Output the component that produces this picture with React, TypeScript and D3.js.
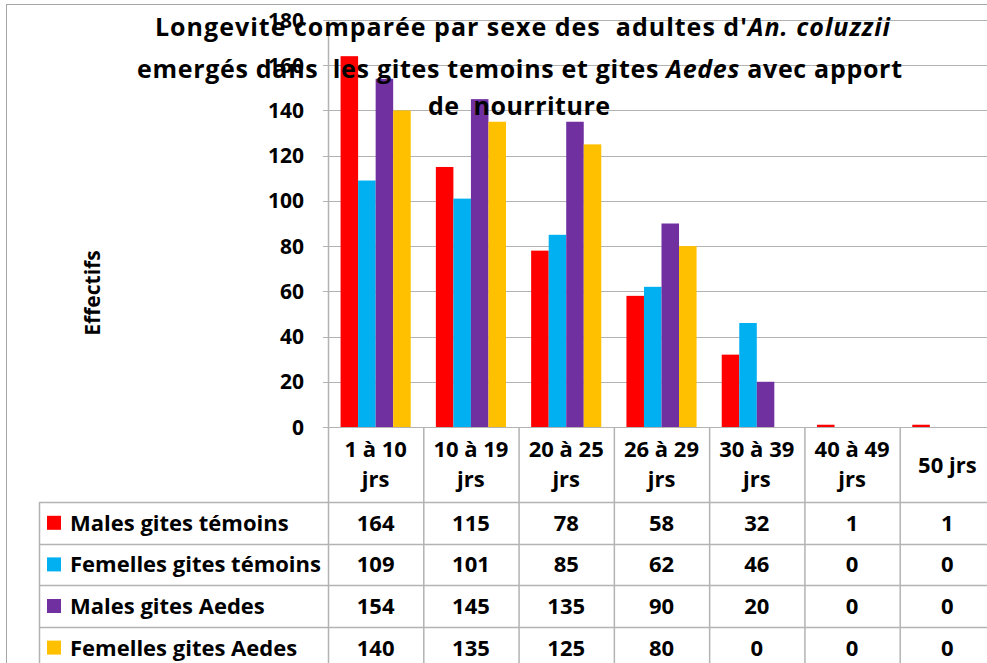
import React from 'react';
import * as d3 from 'd3';

const categories = ['1 à 10 jrs', '10 à 19 jrs', '20 à 25 jrs', '26 à 29 jrs', '30 à 39 jrs', '40 à 49 jrs', '50 jrs'];
const seriesNames = ['Males gites témoins', 'Femelles gites témoins', 'Males gites Aedes', 'Femelles gites Aedes'];
const malesTemoins = [164, 115, 78, 58, 32, 1, 1];
const femellesTemoins = [109, 101, 85, 62, 46, 0, 0];
const malesAedes = [154, 145, 135, 90, 20, 0, 0];
const femellesAedes = [140, 135, 125, 80, 0, 0, 0];
const yTicks = [0, 20, 40, 60, 80, 100, 120, 140, 160, 180];
const colors = ['#FF0000', '#00B0F0', '#7030A0', '#FFC000'];

const series = [malesTemoins, femellesTemoins, malesAedes, femellesAedes];

const width = 987;
const height = 663;
const plot = { left: 328, top: 20, right: 995, bottom: 427 };
const headerBottom = 502;
const rowH = 41.6;
const tableLeft = 39;
const font = '"Open Sans", Lato, sans-serif';
const grid = '#B3B3B3';
const fs = 22;

const x = d3.scaleBand<string>().domain(categories).range([plot.left, plot.right]).padding(0);
const xInner = d3.scaleBand<number>().domain(d3.range(seriesNames.length))
  .range([x.bandwidth() * 0.132, x.bandwidth() * 0.868]).padding(0);
const y = d3.scaleLinear().domain([0, 180]).range([plot.bottom, plot.top]);

export default function App() {
  const bw = xInner.bandwidth();
  // split "1 à 10 jrs" into two lines like the original
  const catLines = (c: string) => {
    const i = c.lastIndexOf(' jrs');
    return c.includes('à') ? [c.slice(0, i), 'jrs'] : [c];
  };
  const rowY = (r: number) => headerBottom + r * rowH;

  return (
    <svg width={width} height={height} style={{ position: 'fixed', left: 0, top: 0, background: '#fff' }}
      fontFamily={font} fontWeight="bold">
      <rect x={6.5} y={4.5} width={width} height={height} fill="#fff" stroke="#A6A6A6" />

      {/* gridlines */}
      {yTicks.map(t => (
        <line key={t} x1={plot.left - 5} x2={width} y1={Math.round(y(t)) + 0.5} y2={Math.round(y(t)) + 0.5} stroke={grid} />
      ))}
      {/* y tick labels */}
      {yTicks.map(t => (
        <text key={'l' + t} x={304} y={y(t)} dy="0.36em" textAnchor="end" fontSize={21} fill="#000">{t}</text>
      ))}
      <text transform={`translate(100,${293}) rotate(-90)`} textAnchor="middle" fontSize={21} fill="#000">Effectifs</text>

      {/* bars */}
      {series.map((vals, s) => vals.map((v, i) => (
        <rect key={s + '-' + i} x={x(categories[i])! + xInner(s)!} y={y(v)} width={bw}
          height={y(0) - y(v)} fill={colors[s]} />
      )))}

      {/* axis + table lines */}
      <line x1={plot.left + 0.5} x2={plot.left + 0.5} y1={plot.top} y2={height} stroke={grid} strokeWidth={1.5} />
      {categories.map(c => (
        <line key={'v' + c} x1={x(c)! + x.step() + 0.5} x2={x(c)! + x.step() + 0.5} y1={plot.bottom} y2={height} stroke={grid} strokeWidth={1.5} />
      ))}
      <line x1={tableLeft + 0.5} x2={tableLeft + 0.5} y1={headerBottom} y2={height} stroke={grid} strokeWidth={1.5} />
      {[0, 1, 2, 3].map(r => (
        <line key={'h' + r} x1={tableLeft} x2={width} y1={Math.round(rowY(r)) + 0.5} y2={Math.round(rowY(r)) + 0.5} stroke={grid} strokeWidth={1.5} />
      ))}

      {/* header labels */}
      {categories.map(c => {
        const lines = catLines(c);
        const cx = x(c)! + x.bandwidth() / 2;
        return lines.map((ln, k) => (
          <text key={c + k} x={cx} textAnchor="middle" fontSize={fs} fill="#000"
            y={lines.length === 1 ? 465 : 449 + k * 30} dy="0.36em">{ln}</text>
        ));
      })}

      {/* table rows */}
      {seriesNames.map((name, s) => (
        <g key={name}>
          <rect x={47} y={rowY(s) + rowH / 2 - 7} width={14} height={14} fill={colors[s]} />
          <text x={70} y={rowY(s) + rowH / 2} dy="0.36em" fontSize={fs} fill="#000">{name}</text>
          {series[s].map((v, i) => (
            <text key={i} x={x(categories[i])! + x.bandwidth() / 2} y={rowY(s) + rowH / 2} dy="0.36em"
              textAnchor="middle" fontSize={fs} fill="#000">{v}</text>
          ))}
        </g>
      ))}

      {/* title */}
      <g fontSize={25} fill="#000">
        <text x={155} y={36} textLength={735} lengthAdjust="spacing" xmlSpace="preserve">Longevite comparée par sexe des  adultes d'<tspan fontStyle="italic">An. coluzzii</tspan></text>
        <text x={137} y={78} textLength={765} lengthAdjust="spacing" xmlSpace="preserve">emergés dans  les gites temoins et gites <tspan fontStyle="italic">Aedes</tspan> avec apport</text>
        <text x={428} y={115} textLength={182} lengthAdjust="spacing" xmlSpace="preserve">de  nourriture</text>
      </g>
    </svg>
  );
}
